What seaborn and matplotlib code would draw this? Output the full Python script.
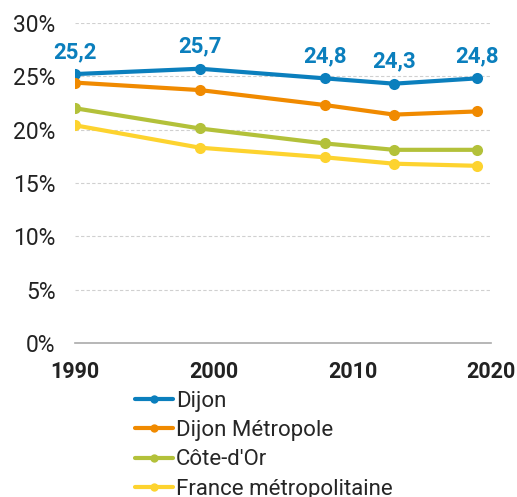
import pandas as pd
import numpy as np
import matplotlib
matplotlib.use('Agg')
import matplotlib.pyplot as plt
import seaborn as sns

# données
annees = [1990, 1999, 2008, 2013, 2019]
dijon = [25.2, 25.7, 24.8, 24.3, 24.8]
dijon_metropole = [24.4, 23.7, 22.3, 21.4, 21.7]
cote_dor = [22.0, 20.1, 18.7, 18.1, 18.1]
france = [20.4, 18.3, 17.4, 16.8, 16.6]
noms = ['Dijon', 'Dijon Métropole', "Côte-d'Or", 'France métropolitaine']
couleurs = ['#0b7fbd', '#f08a00', '#b3c13a', '#fdd32f']
y_ticks = [0, 5, 10, 15, 20, 25, 30]
x_ticks = [1990, 2000, 2010, 2020]

df = pd.DataFrame({
    'annee': annees * 4,
    'valeur': dijon + dijon_metropole + cote_dor + france,
    'zone': [n for n in noms for _ in annees],
})

sns.set_style('white')
plt.rcParams['font.family'] = ['Roboto', 'DejaVu Sans']

fig = plt.figure(figsize=(5.17, 4.97), dpi=100)
ax = fig.add_axes([0.145, 0.31, 0.805, 0.644])

sns.lineplot(data=df, x='annee', y='valeur', hue='zone', hue_order=noms,
             palette=couleurs, marker='o', markersize=8, markeredgewidth=0,
             linewidth=3, ax=ax, legend=True)

# étiquettes de Dijon
for a, v in zip(annees, dijon):
    ax.annotate(('%.1f' % v).replace('.', ','), (a, v), xytext=(0, 8),
                textcoords='offset points', ha='center', va='bottom',
                fontsize=16, fontweight='bold', color=couleurs[0])

ax.set_xlim(1990, 2020)
ax.set_ylim(0, 30)
ax.set_yticks(y_ticks)
ax.set_yticklabels(['%d%%' % t for t in y_ticks], fontsize=16.5, color='#222222')
ax.set_xticks(x_ticks)
ax.set_xticklabels([str(t) for t in x_ticks], fontsize=15.5, fontweight='bold', color='#222222')
ax.set_xlabel('')
ax.set_ylabel('')

for t in y_ticks[1:]:
    ax.axhline(t, color='#d0d0d0', linestyle=(0, (3, 2)), linewidth=0.8, zorder=0)

for s in ['top', 'right', 'left']:
    ax.spines[s].set_visible(False)
ax.spines['bottom'].set_color('#aaaaaa')
ax.spines['bottom'].set_linewidth(1.2)
ax.tick_params(axis='x', direction='out', length=7, width=1.2, color='#aaaaaa', pad=6)
ax.tick_params(axis='y', length=0, pad=14)

leg = ax.legend(loc='upper left', bbox_to_anchor=(0.243, 0.232), bbox_transform=fig.transFigure,
                frameon=False, fontsize=16, handlelength=1.75, handletextpad=0.1,
                labelspacing=0.38, borderaxespad=0)
for h in leg.legend_handles:
    h.set_markersize(6)

fig.savefig('out.png', dpi=100)
